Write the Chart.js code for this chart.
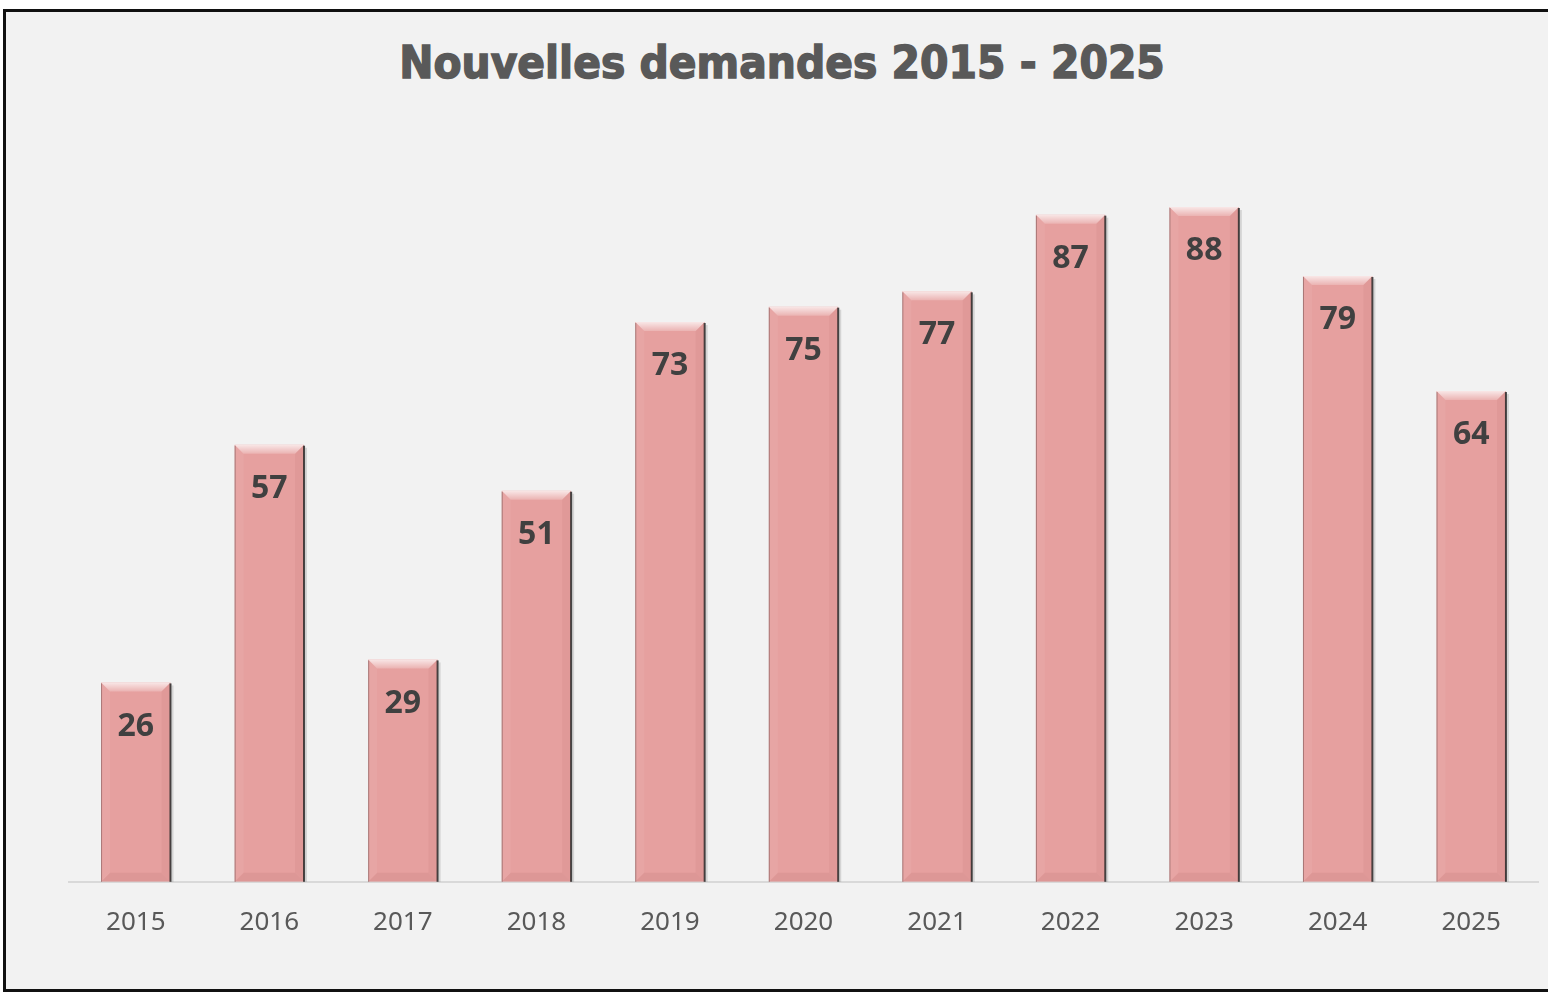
<!DOCTYPE html>
<html lang="fr">
<head>
<meta charset="utf-8">
<title>Nouvelles demandes 2015 - 2025</title>
<script src="https://cdn.jsdelivr.net/npm/chart.js@4.4.1/dist/chart.umd.min.js"></script>
<style>
  html, body { margin: 0; padding: 0; background: #fff; overflow: hidden; }
  #frame {
    position: absolute; left: 3px; top: 9px;
    width: 1556px; height: 977px;
    border: 3px solid #111;
    background: #f2f2f2;
  }
  #title {
    position: absolute; left: 0; width: 1552px; top: 29px;
    text-align: center;
    font-family: "DejaVu Sans", sans-serif; font-weight: bold; font-size: 44px;
    line-height: 44px;
    color: #595959;
    -webkit-text-stroke: 1.5px #595959;
    transform: scaleX(0.93);
  }
  #chart { position: absolute; left: 0; top: 0; }
</style>
</head>
<body>
<div id="frame">
  <div id="title">Nouvelles demandes 2015 - 2025</div>
  <canvas id="chart" width="1556" height="977"></canvas>
</div>
<script>
const years = ['2015', '2016', '2017', '2018', '2019', '2020', '2021', '2022', '2023', '2024', '2025'];
const demandes = [26, 57, 29, 51, 73, 75, 77, 87, 88, 79, 64];
const yMax = 100;

// bevel + shadow on each bar, like the office "bevel" shape effect
const bevelBars = {
  id: 'bevelBars',
  afterDatasetsDraw(chart) {
    const ctx = chart.ctx;
    chart.getDatasetMeta(0).data.forEach(bar => {
      const l = bar.x - bar.width / 2, r = bar.x + bar.width / 2;
      const t = bar.y, b = bar.base;
      const bv = 9;
      ctx.save();

      // top facet
      const g = ctx.createLinearGradient(0, t, 0, t + bv);
      g.addColorStop(0, 'rgba(255,255,255,0.75)');
      g.addColorStop(1, 'rgba(255,255,255,0.2)');
      ctx.fillStyle = g;
      ctx.beginPath();
      ctx.moveTo(l, t); ctx.lineTo(r, t); ctx.lineTo(r - bv, t + bv); ctx.lineTo(l + bv, t + bv);
      ctx.closePath(); ctx.fill();

      // bottom facet
      ctx.fillStyle = 'rgba(120,40,40,0.07)';
      ctx.beginPath();
      ctx.moveTo(l, b); ctx.lineTo(l + bv, b - bv); ctx.lineTo(r - bv, b - bv); ctx.lineTo(r, b);
      ctx.closePath(); ctx.fill();

      // side facets
      ctx.fillStyle = 'rgba(120,40,40,0.05)';
      ctx.beginPath();
      ctx.moveTo(r, t); ctx.lineTo(r - bv, t + bv); ctx.lineTo(r - bv, b - bv); ctx.lineTo(r, b);
      ctx.closePath(); ctx.fill();
      ctx.fillStyle = 'rgba(255,255,255,0.06)';
      ctx.beginPath();
      ctx.moveTo(l, t); ctx.lineTo(l + bv, t + bv); ctx.lineTo(l + bv, b - bv); ctx.lineTo(l, b);
      ctx.closePath(); ctx.fill();

      // edges
      ctx.fillStyle = 'rgba(40,40,40,0.85)';
      ctx.fillRect(r - 1, t + 1, 2, b - t - 1);
      ctx.fillStyle = 'rgba(0,0,0,0.12)';
      ctx.fillRect(r + 1, t + 3, 2, b - t - 3);
      ctx.fillStyle = 'rgba(90,60,60,0.45)';
      ctx.fillRect(l, t + 1, 1, b - t - 1);
      ctx.restore();
    });
  }
};

// value labels inside the top of each bar
const valueLabels = {
  id: 'valueLabels',
  afterDatasetsDraw(chart) {
    const ctx = chart.ctx;
    const meta = chart.getDatasetMeta(0);
    ctx.save();
    ctx.font = 'bold 32px "Noto Sans", sans-serif';
    ctx.fillStyle = '#404040';
    ctx.textAlign = 'center';
    ctx.textBaseline = 'middle';
    meta.data.forEach((bar, i) => {
      ctx.fillText(String(demandes[i]), bar.x, bar.y + 44);
    });
    ctx.restore();
  }
};

new Chart(document.getElementById('chart'), {
  type: 'bar',
  data: {
    labels: years,
    datasets: [{
      label: 'Nouvelles demandes',
      data: demandes,
      backgroundColor: '#e6a09f',
      borderWidth: 0,
      categoryPercentage: 1,
      barPercentage: 0.52
    }]
  },
  options: {
    responsive: false,
    animation: false,
    layout: { padding: { left: 63, right: 24, top: 103, bottom: 26 } },
    plugins: {
      legend: { display: false },
      tooltip: { enabled: false },
      title: { display: false }
    },
    scales: {
      x: {
        grid: { display: false, drawTicks: false },
        border: { display: true, color: '#d9d9d9', width: 2 },
        ticks: {
          color: '#595959',
          padding: 25,
          font: { family: '"Noto Sans", sans-serif', size: 26 }
        }
      },
      y: {
        display: false,
        min: 0,
        max: yMax
      }
    }
  },
  plugins: [bevelBars, valueLabels]
});
</script>
</body>
</html>
